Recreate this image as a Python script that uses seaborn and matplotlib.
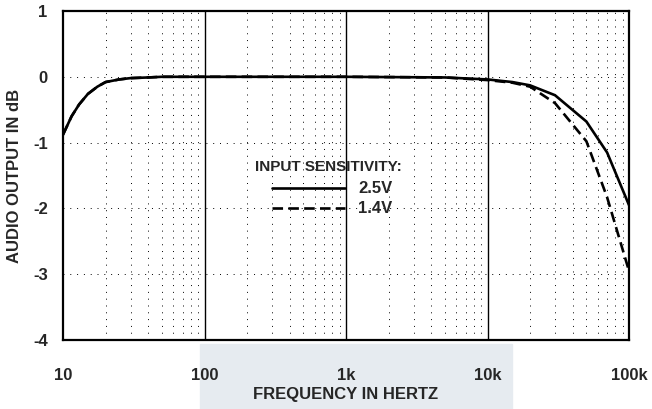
import numpy as np
import pandas as pd
import matplotlib
matplotlib.use("Agg")
import matplotlib.pyplot as plt
import seaborn as sns
from matplotlib.ticker import FixedLocator, NullFormatter

# --- Data ---
freq_hz = [10, 11.5, 13, 15, 17.5, 20, 25, 30, 40, 50, 100, 1000, 5000,
           10000, 15000, 20000, 30000, 50000, 70000, 100000]
out_25v = [-0.88, -0.6, -0.42, -0.26, -0.15, -0.08, -0.04, -0.02, -0.01, 0.0,
           0.0, 0.0, -0.01, -0.04, -0.08, -0.13, -0.28, -0.68, -1.15, -1.95]
out_14v = [-0.88, -0.6, -0.42, -0.26, -0.15, -0.08, -0.04, -0.02, -0.01, 0.0,
           0.0, 0.0, -0.01, -0.05, -0.09, -0.15, -0.4, -0.98, -1.83, -2.95]
series_names = ["2.5V", "1.4V"]

x_ticks = [10, 100, 1000, 10000, 100000]
x_labels = ["10", "100", "1k", "10k", "100k"]
y_ticks = [1, 0, -1, -2, -3, -4]

df = pd.DataFrame({
    "freq": freq_hz * 2,
    "db": out_25v + out_14v,
    "sens": [series_names[0]] * len(freq_hz) + [series_names[1]] * len(freq_hz),
})

# --- Style ---
sns.set_style("white")
plt.rcParams["font.family"] = ["Liberation Sans", "DejaVu Sans"]
plt.rcParams["font.weight"] = "bold"

fig = plt.figure(figsize=(6.52, 4.09), dpi=100)
# faint halftone band from the scan behind the x label
fig.add_artist(plt.Rectangle((200 / 652, 0), 312 / 652, 65 / 409,
                             transform=fig.transFigure, color="#e6ebf0",
                             zorder=-1))
ax = fig.add_axes([63 / 652, 1 - 340 / 409, 566 / 652, 329 / 409])
ax.set_facecolor("none")

sns.lineplot(data=df, x="freq", y="db", style="sens", color="black",
             dashes={"2.5V": "", "1.4V": (4, 2)}, linewidth=1.9,
             legend=False, ax=ax)

ax.set_xscale("log")
ax.set_xlim(10, 100000)
ax.set_ylim(-4, 1)

# grid: solid decade lines, dotted minor lines
minor = [m * 10 ** d for d in range(1, 5) for m in range(2, 10)]
for xv in minor:
    ax.axvline(xv, color="black", lw=0.7, ls=(0, (1, 6)), zorder=1)
for xv in x_ticks[1:-1]:
    ax.axvline(xv, color="black", lw=1.0, zorder=1)
for yv in [0, -1, -2, -3]:
    ax.axhline(yv, color="black", lw=0.7, ls=(0, (1, 6)), zorder=1)

ax.xaxis.set_major_locator(FixedLocator(x_ticks))
ax.xaxis.set_minor_formatter(NullFormatter())
ax.set_xticks(x_ticks, x_labels)
ax.set_yticks(y_ticks, [str(v) for v in y_ticks])
ax.tick_params(axis="both", which="both", length=0, labelsize=12)
ax.tick_params(axis="x", pad=20)
ax.tick_params(axis="y", pad=11)

for s in ax.spines.values():
    s.set_color("black")
    s.set_linewidth(1.6)

ax.set_xlabel("FREQUENCY IN HERTZ", fontsize=12, fontweight="bold", labelpad=3)
ax.set_ylabel("AUDIO OUTPUT IN dB", fontsize=12, fontweight="bold", labelpad=8)

# legend drawn like the original
ax.text(750, -1.37, "INPUT SENSITIVITY:", fontsize=11, fontweight="bold",
        ha="center", va="center")
ax.plot([300, 985], [-1.69, -1.69], color="black", lw=1.9)
ax.plot([300, 985], [-2.0, -2.0], color="black", lw=1.9, dashes=(4, 2))
ax.text(1220, -1.69, "2.5V", fontsize=12, fontweight="bold", va="center")
ax.text(1220, -2.0, "1.4V", fontsize=12, fontweight="bold", va="center")

fig.savefig("out.png", dpi=100)
